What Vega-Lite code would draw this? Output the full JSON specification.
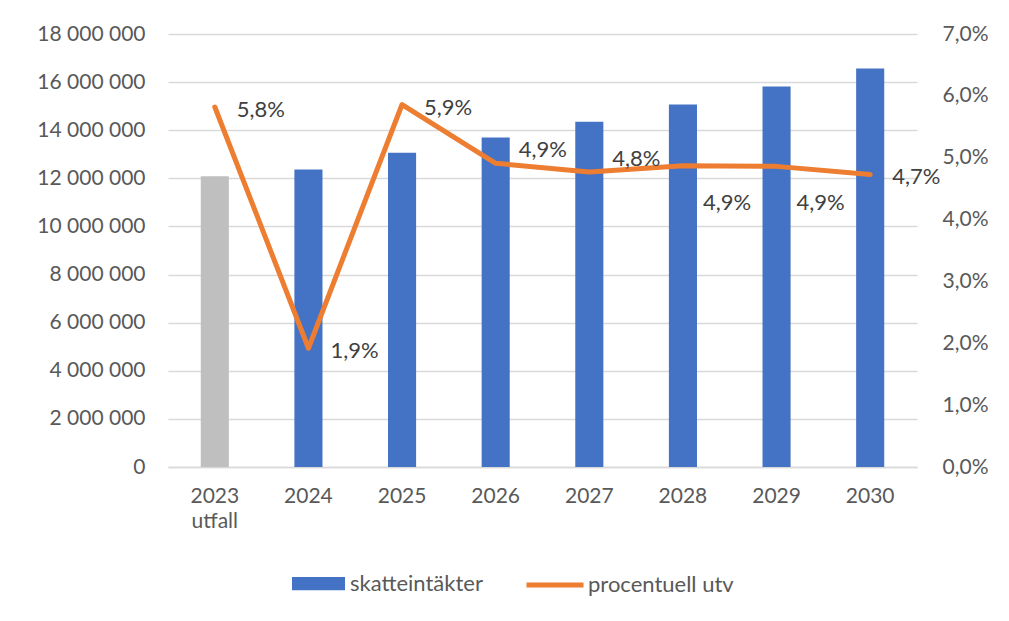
{
  "$schema": "https://vega.github.io/schema/vega-lite/v6.json",
  "width": 749,
  "height": 433,
  "autosize": {"type": "none"},
  "padding": {"left": 168, "top": 34, "right": 92, "bottom": 154},
  "background": "white",
  "config": {
    "locale": {"number": {"decimal": ",", "thousands": " ", "grouping": [3], "currency": ["", " kr"]}},
    "font": "Lato",
    "view": {"stroke": null},
    "axis": {"labelFont": "Lato", "labelFontSize": 21, "labelColor": "#595959", "domain": false, "ticks": false, "title": null}
  },
  "data": {
    "values": [
      {"year": "2023 utfall", "skatt": 12090000, "utv": 0.0582, "serie": "skatteintäkter", "linje": "procentuell utv", "grp": "a"},
      {"year": "2024", "skatt": 12370000, "utv": 0.0192, "serie": "skatteintäkter", "linje": "procentuell utv", "grp": "a"},
      {"year": "2025", "skatt": 13060000, "utv": 0.0586, "serie": "skatteintäkter", "linje": "procentuell utv", "grp": "a"},
      {"year": "2026", "skatt": 13700000, "utv": 0.0491, "serie": "skatteintäkter", "linje": "procentuell utv", "grp": "b"},
      {"year": "2027", "skatt": 14350000, "utv": 0.0477, "serie": "skatteintäkter", "linje": "procentuell utv", "grp": "b"},
      {"year": "2028", "skatt": 15070000, "utv": 0.0487, "serie": "skatteintäkter", "linje": "procentuell utv", "grp": "c"},
      {"year": "2029", "skatt": 15820000, "utv": 0.0486, "serie": "skatteintäkter", "linje": "procentuell utv", "grp": "c"},
      {"year": "2030", "skatt": 16570000, "utv": 0.0473, "serie": "skatteintäkter", "linje": "procentuell utv", "grp": "a"}
    ]
  },
  "encoding": {
    "x": {
      "field": "year", "type": "nominal", "sort": null,
      "scale": {"paddingInner": 0.7, "paddingOuter": 0.35},
      "axis": {"labelAngle": 0, "labelPadding": 18, "labelLineHeight": 25, "labelExpr": "split(datum.label, ' ')", "domain": true, "domainColor": "#d9d9d9", "domainWidth": 1.5}
    }
  },
  "layer": [
    {
      "mark": {"type": "bar"},
      "encoding": {
        "y": {
          "field": "skatt", "type": "quantitative",
          "scale": {"domain": [0, 18000000], "nice": false},
          "axis": {"orient": "left", "values": [0, 2000000, 4000000, 6000000, 8000000, 10000000, 12000000, 14000000, 16000000, 18000000], "format": ",d", "labelPadding": 23, "grid": true, "gridColor": "#d9d9d9", "gridWidth": 1.5}
        },
        "fill": {
          "condition": {"test": "datum.year == '2023 utfall'", "value": "#bfbfbf"},
          "field": "serie", "type": "nominal",
          "scale": {"domain": ["skatteintäkter"], "range": ["#4472c4"]},
          "legend": {"orient": "none", "legendX": 124, "legendY": 523, "title": null, "symbolType": "M-1,-0.25H1V0.25H-1Z", "symbolSize": 2809, "symbolStrokeWidth": 0, "labelFontSize": 22, "labelColor": "#595959", "labelFont": "Lato", "labelOffset": 5}
        }
      }
    },
    {
      "layer": [
        {
          "mark": {"type": "line", "strokeWidth": 5, "strokeCap": "round", "strokeJoin": "round"},
          "encoding": {
            "stroke": {
              "field": "linje", "type": "nominal",
              "scale": {"domain": ["procentuell utv"], "range": ["#ed7d31"]},
              "legend": {"orient": "none", "legendX": 356, "legendY": 520, "title": null, "symbolType": "stroke", "symbolSize": 3249, "symbolStrokeWidth": 5, "labelFontSize": 22, "labelColor": "#595959", "labelFont": "Lato", "labelOffset": 2}
            }
          }
        },
        {
          "transform": [{"filter": "datum.grp == 'a'"}],
          "mark": {"type": "text", "align": "left", "baseline": "middle", "dx": 22, "dy": 3, "fontSize": 22, "color": "#404040", "font": "Lato"},
          "encoding": {"text": {"field": "utv", "type": "quantitative", "format": ".1%"}}
        },
        {
          "transform": [{"filter": "datum.grp == 'b'"}],
          "mark": {"type": "text", "align": "left", "baseline": "middle", "dx": 23, "dy": -13, "fontSize": 22, "color": "#404040", "font": "Lato"},
          "encoding": {"text": {"field": "utv", "type": "quantitative", "format": ".1%"}}
        },
        {
          "transform": [{"filter": "datum.grp == 'c'"}],
          "mark": {"type": "text", "align": "left", "baseline": "middle", "dx": 20, "dy": 37, "fontSize": 22, "color": "#404040", "font": "Lato"},
          "encoding": {"text": {"field": "utv", "type": "quantitative", "format": ".1%"}}
        }
      ],
      "encoding": {
        "y": {
          "field": "utv", "type": "quantitative",
          "scale": {"domain": [0, 0.07], "nice": false},
          "axis": {"orient": "right", "values": [0, 0.01, 0.02, 0.03, 0.04, 0.05, 0.06, 0.07], "format": ".1%", "labelPadding": 25, "grid": false}
        }
      }
    }
  ],
  "resolve": {"scale": {"y": "independent", "fill": "independent", "stroke": "independent"}}
}
